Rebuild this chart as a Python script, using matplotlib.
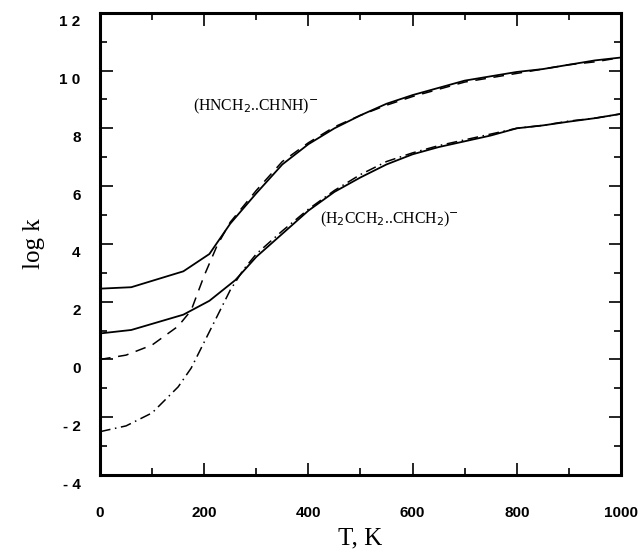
import numpy as np
import matplotlib.pyplot as plt
import matplotlib.transforms as mtransforms

# temperature (K) and log k
T_solid = [0, 60, 160, 210, 250, 300, 350, 400, 450, 500, 550, 600, 650, 700, 750, 800, 850, 900, 950, 1000]
hn_solid = [2.45, 2.5, 3.05, 3.65, 4.7, 5.75, 6.75, 7.45, 8.0, 8.45, 8.85, 9.15, 9.4, 9.65, 9.8, 9.95, 10.05, 10.2, 10.35, 10.45]

T_hn_dash = [0, 50, 100, 150, 175, 200, 225, 250, 300, 350, 400, 450, 500, 550, 600, 650, 700, 750, 800, 850, 900, 950, 1000]
hn_dash = [0.0, 0.15, 0.5, 1.15, 1.7, 2.9, 3.95, 4.75, 5.85, 6.85, 7.5, 8.05, 8.45, 8.8, 9.1, 9.35, 9.6, 9.75, 9.9, 10.05, 10.2, 10.3, 10.45]

T_h2_solid = [0, 60, 160, 210, 260, 300, 350, 400, 450, 500, 550, 600, 650, 700, 750, 800, 850, 900, 950, 1000]
h2_solid = [0.9, 1.02, 1.55, 2.03, 2.75, 3.55, 4.35, 5.15, 5.8, 6.3, 6.75, 7.1, 7.35, 7.55, 7.75, 8.0, 8.1, 8.23, 8.35, 8.5]

T_h2_dash = [0, 50, 100, 150, 175, 200, 225, 250, 275, 300, 350, 400, 450, 500, 550, 600, 650, 700, 750, 800, 850, 900, 950, 1000]
h2_dash = [-2.5, -2.3, -1.85, -0.95, -0.3, 0.6, 1.5, 2.4, 3.1, 3.65, 4.45, 5.2, 5.85, 6.4, 6.85, 7.15, 7.4, 7.6, 7.8, 8.0, 8.1, 8.25, 8.35, 8.5]

xticks = [0, 200, 400, 600, 800, 1000]
yticks = [-4, -2, 0, 2, 4, 6, 8, 10, 12]
ytick_labels = ["- 4", "- 2", "0", "2", "4", "6", "8", "1 0", "1 2"]

fig = plt.figure(figsize=(6.43, 5.58), dpi=100)
ax = fig.add_axes([0.1555, 0.1487, 0.8103, 0.8285])

ax.plot(T_solid, hn_solid, color="black", lw=1.3)
ax.plot(T_hn_dash, hn_dash, color="black", lw=1.1, linestyle=(0, (7, 5)))
ax.plot(T_h2_solid, h2_solid, color="black", lw=1.3)
ax.plot(T_h2_dash, h2_dash, color="black", lw=1.1, linestyle=(0, (7, 3, 1, 3)))

ax.text(178, 8.75, r"(HNCH$_2$..CHNH)$^{-}$", fontsize=11.3, family="Liberation Serif", va="center")
ax.text(422, 4.85, r"(H$_2$CCH$_2$..CHCH$_2$)$^{-}$", fontsize=11.3, family="Liberation Serif", va="center")

ax.set_xlim(0, 1000)
ax.set_ylim(-4, 12)
ax.set_xticks(xticks)
ax.set_xticks(np.arange(0, 1001, 100), minor=True)
ax.set_yticks(yticks)
ax.set_yticklabels(ytick_labels)
ax.set_yticks(np.arange(-4, 13, 1), minor=True)
ax.tick_params(which="both", direction="in", top=True, right=True, width=1.2)
ax.tick_params(which="major", length=9, labelsize=11)
ax.tick_params(axis="x", which="major", pad=22)
ax.tick_params(axis="y", which="major", pad=14)
ax.tick_params(which="minor", length=5)
for lab in ax.get_xticklabels() + ax.get_yticklabels():
    lab.set_family("Liberation Sans")
    lab.set_fontweight("bold")
# y labels sit a bit low in the original
offset = mtransforms.ScaledTranslation(0, -8 / 100, fig.dpi_scale_trans)
for lab in ax.get_yticklabels():
    lab.set_transform(lab.get_transform() + offset)

for s in ax.spines.values():
    s.set_linewidth(2.2)

ax.set_xlabel("T, K", fontsize=18, family="Liberation Serif", labelpad=6)
ax.set_ylabel("log k", fontsize=18, family="Liberation Serif", labelpad=10)

fig.savefig("out.png", dpi=100)
